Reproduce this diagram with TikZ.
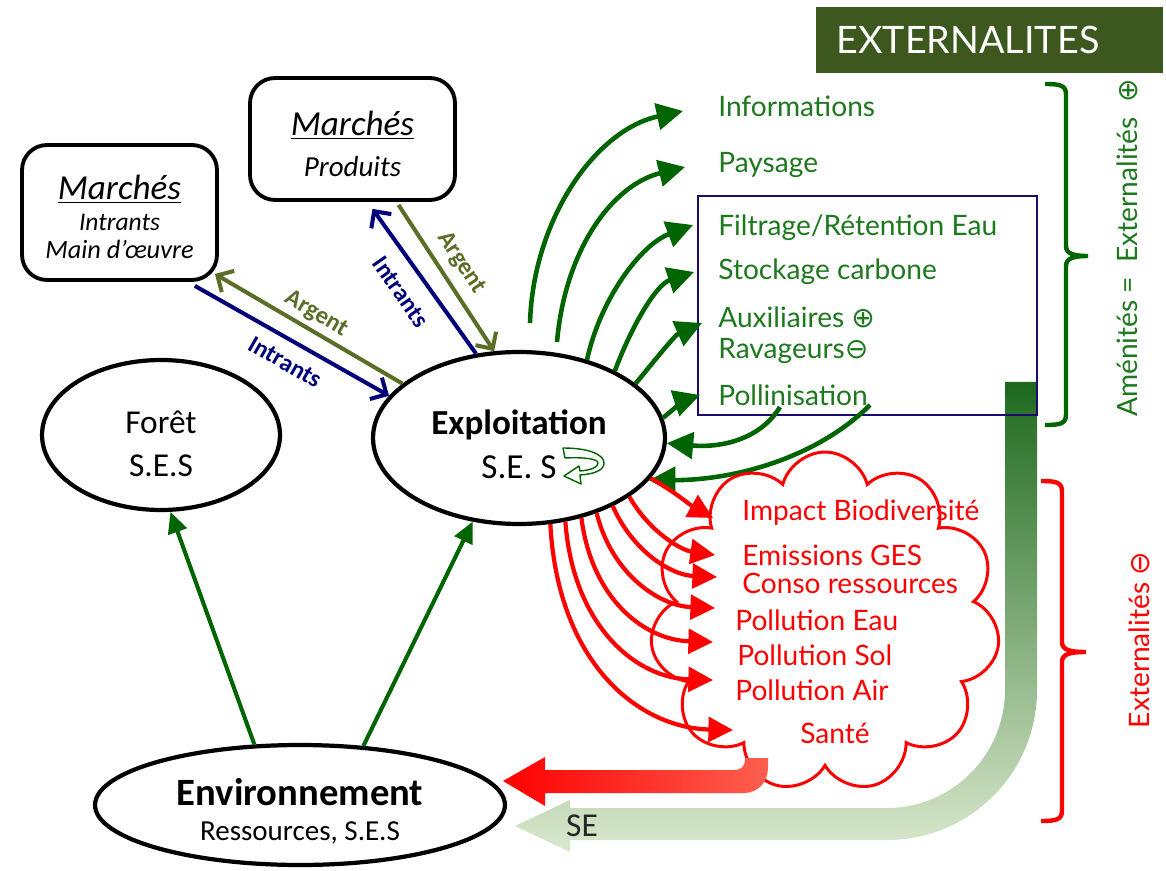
\documentclass[tikz,border=0pt]{standalone}
\usepackage{fontspec}
\setmainfont{Carlito}
\newfontfamily\robo{Lato}
\newfontfamily\symb{DejaVu Sans}
\usetikzlibrary{arrows.meta, positioning, calc, shapes.geometric, shapes.symbols}

\definecolor{exgreen}{RGB}{0,100,0}
\definecolor{txtgreen}{RGB}{30,120,30}
\definecolor{argcol}{RGB}{90,110,40}
\definecolor{intcol}{RGB}{0,0,120}
\definecolor{headgreen}{RGB}{61,88,30}
\definecolor{boxblue}{RGB}{28,10,110}
\definecolor{redlight}{RGB}{255,95,80}
\definecolor{bandtop}{RGB}{30,105,30}
\definecolor{bandmid}{RGB}{150,188,115}
\definecolor{bandbot}{RGB}{218,232,205}

\tikzset{
  market/.style={draw, line width=2.2pt, rounded corners=0.5cm, align=center, inner sep=2pt},
  ses/.style={draw, ellipse, line width=2.4pt, align=center, inner sep=0pt},
  flow/.style={line width=2.6pt, -{Triangle[length=15pt,width=15pt]}},
  badflow/.style={line width=2.4pt, red, -{Triangle[length=14pt,width=14pt]}},
  money/.style={line width=2.3pt, -{Straight Barb[length=7pt,width=14pt]}},
  item/.style={anchor=west, inner sep=0pt, text=txtgreen, font=\robo\fontsize{16}{18}\selectfont},
  bad/.style={anchor=west, inner sep=0pt, text=red, font=\robo\fontsize{16}{18}\selectfont},
  flowlabel/.style={font=\bfseries\fontsize{14}{16}\selectfont, inner sep=0pt},
}

\begin{document}
\begin{tikzpicture}[x=0.02cm, y=-0.02cm]
\useasboundingbox (0,0) rectangle (1166,871);

% header
\fill[headgreen] (816,7) rectangle (1163,73);
\node (hdr) [anchor=west, inner sep=0pt, text=white, font=\robo\fontsize{21.5}{25}\selectfont] at (836,40) {EXTERNALITES};

% markets and systems
\node (mp) [market, minimum width=4.1cm, minimum height=2.44cm] at (352.5,139)
  {\rule{0pt}{19.5pt}\fontsize{20}{24}\selectfont\itshape\underline{Marchés}\\[9pt]\fontsize{16.5}{20}\selectfont\itshape Produits};
\node (mi) [market, minimum width=3.9cm, minimum height=2.7cm] at (119.5,212.5)
  {\rule{0pt}{19pt}\fontsize{20}{24}\selectfont\itshape\underline{Marchés}\\[6pt]\fontsize{14.5}{17}\selectfont\itshape Intrants\\[4pt]\fontsize{15}{18}\selectfont\itshape Main d’œuvre};
\node (foret) [ses, minimum width=4.76cm, minimum height=3cm] at (161,435)
  {\rule{0pt}{23pt}\fontsize{19}{22}\selectfont Forêt\\[11pt]\fontsize{19}{22}\selectfont S.E.S};
\node (expl) [ses, minimum width=5.84cm, minimum height=3.44cm] at (519,438)
  {\rule{0pt}{21pt}\bfseries\fontsize{20}{23}\selectfont Exploitation\\[8pt]\fontsize{20}{23}\selectfont S.E. S};
\node (env) [ses, minimum width=8.2cm, minimum height=2.4cm] at (300,805)
  {\rule{0pt}{22.5pt}\bfseries\fontsize{22}{25}\selectfont Environnement\\[8pt]\fontsize{16.5}{19}\selectfont Ressources, S.E.S};

% little loop arrow
\draw[exgreen, line width=0.8pt, line join=round] (563,448) .. controls (590,448) and (604,455) .. (604,463)
  .. controls (604,470) and (595,474) .. (580,475) -- (581,484) -- (564,476) -- (579,466) -- (580,471)
  .. controls (592,470) and (598,467) .. (598,463) .. controls (598,459) and (585,457) .. (565,458) -- cycle;

% environment feeds
\draw[exgreen, line width=2.3pt, -{Triangle[length=12pt,width=11pt]}] (env.127) -- (foret.-83);
\draw[exgreen, line width=2.3pt, -{Triangle[length=12pt,width=11pt]}] (env.43) -- (expl.241);

% money and inputs
\draw[money, intcol] ([shift={(-24,4)}]mi.south east) -- (expl.162);
\draw[money, argcol] (expl.155) -- ([shift={(-4,-8)}]mi.south east);
\draw[money, intcol] (expl.117) -- ([shift={(20,7)}]mp.south);
\draw[money, argcol] ([shift={(46,3)}]mp.south) -- (expl.106);
\node (arg1) [flowlabel, text=argcol, rotate=-30.5] at (316,314) {Argent};
\node (int1) [flowlabel, text=intcol, rotate=-29.8] at (285,362) {Intrants};
\node (int2) [flowlabel, text=intcol, rotate=-55] at (401,292) {Intrants};
\node (arg2) [flowlabel, text=argcol, rotate=-57] at (461,263) {Argent};

% SE return band
\shade[top color=bandtop, middle color=bandmid, bottom color=bandbot]
  (1005,382) -- (1037,382) -- (1037,690) .. controls (1037,773) and (970,840) .. (887,840)
  -- (570,840) -- (570,852) -- (515,826) -- (570,800) -- (570,808) -- (887,808)
  .. controls (952,808) and (1005,755) .. (1005,690) -- cycle;
\node (se) [font=\fontsize{19}{22}\selectfont, text=black!85] at (582,826) {SE};

% positive externalities
\node (svbox) [draw=boxblue, line width=1.1pt, minimum width=6.78cm, minimum height=4.38cm] at (867.5,305.5) {};
\node (info)  [item] at (718,106) {Informations};
\node (pays)  [item] at (718,165) {Paysage};
\node (filt)  [item] at (718,228) {Filtrage/Rétention Eau};
\node (stock) [item] at (718,272) {Stockage carbone};
\node (aux)   [item] at (718,317) {Auxiliaires {\symb ⊕}};
\node (rav)   [item] at (718,351) {Ravageurs{\symb ⊖}};
\node (poll)  [item] at (718,395) {Pollinisation};

\coordinate (gs1) at (530,323);
\coordinate (gs2) at (557,342);
\coordinate (r1) at (780,407);
\coordinate (r2) at (870,405);
\draw[flow, exgreen] (gs1) .. controls (533,220) and (595,130) .. ([shift={(-35,5)}]info.west);
\draw[flow, exgreen] (gs2) .. controls (565,250) and (612,185) .. ([shift={(-33,2)}]pays.west);
\draw[flow, exgreen] (expl.49) .. controls (600,300) and (640,245) .. ([shift={(-25,-3)}]filt.west);
\draw[flow, exgreen] (expl.35) .. controls (630,330) and (655,285) .. ([shift={(-24,0)}]stock.west);
\draw[flow, exgreen] (expl.25) .. controls (655,360) and (675,335) .. ([shift={(-16,6)}]aux.west);
\draw[flow, exgreen] (expl.8) .. controls (675,408) and (685,400) .. ([shift={(-18,0)}]poll.west);
\draw[flow, exgreen] (r1) .. controls (760,440) and (720,448) .. (expl.-2);
\draw[flow, exgreen] (r2) .. controls (820,455) and (740,480) .. (expl.-18);

% negative externalities
\node (cloud) [cloud, draw=red, line width=1.7pt, cloud puffs=11, aspect=1.05,
  minimum width=7cm, minimum height=6.8cm] at (825,622) {};
\node (imp)  [bad] at (742,513) {Impact Biodiversité};
\node (ges)  [bad] at (742,555) {Emissions GES};
\node (cons) [bad] at (742,583) {Conso ressources};
\node (eau)  [bad] at (735,620) {Pollution Eau};
\node (sol)  [bad] at (737,655) {Pollution Sol};
\node (air)  [bad] at (735,690) {Pollution Air};
\node (sante)[bad] at (800,733) {Santé};

\draw[badflow] (expl.-17) .. controls (675,492) and (690,505) .. ([shift={(-29,5)}]imp.west);
\draw[badflow] (expl.-28) .. controls (648,530) and (680,550) .. ([shift={(-27,0)}]ges.west);
\draw[badflow] (expl.-36) .. controls (632,550) and (670,575) .. ([shift={(-25,-6)}]cons.west);
\draw[badflow] (expl.-44) .. controls (612,575) and (660,606) .. ([shift={(-20,-12)}]eau.west);
\draw[badflow] (expl.-52) .. controls (592,600) and (645,640) .. ([shift={(-24,-13)}]sol.west);
\draw[badflow] (expl.-61) .. controls (573,625) and (635,678) .. ([shift={(-22,-10)}]air.west);
\draw[badflow] (expl.-70) .. controls (558,665) and (640,728) .. ([shift={(-67,-3)}]sante.west);

% impact band back to the environment
\shade[left color=red, right color=redlight]
  (745,758) -- (768,758) -- (768,768) .. controls (768,782) and (758,793) .. (744,793)
  -- (545,793) -- (545,806) -- (503,781) -- (545,757) -- (545,770) -- (735,770)
  .. controls (741,770) and (745,766) .. (745,760) -- cycle;

% braces
\draw[exgreen, line width=2.5pt] (1045,84) .. controls (1062,84) and (1066,86) .. (1066,95)
  -- (1066,246) .. controls (1066,254) and (1074,256) .. (1088,256)
  .. controls (1074,256) and (1066,258) .. (1066,266) -- (1066,414)
  .. controls (1066,423) and (1062,425) .. (1045,425);
\draw[red, line width=2.5pt] (1041,481) .. controls (1058,481) and (1062,483) .. (1062,492)
  -- (1062,642) .. controls (1062,650) and (1070,652) .. (1086,652)
  .. controls (1070,652) and (1062,654) .. (1062,662) -- (1062,810)
  .. controls (1062,819) and (1058,821) .. (1041,821);
\node (amen) [rotate=90, text=txtgreen, font=\robo\fontsize{16}{18}\selectfont] at (1127,248)
  {Aménités =\ \ Externalités\ \ {\symb ⊕}};
\node (extneg) [rotate=90, text=red, font=\robo\fontsize{16}{18}\selectfont] at (1139,640)
  {Externalités {\symb ⊖}};
\end{tikzpicture}
\end{document}
